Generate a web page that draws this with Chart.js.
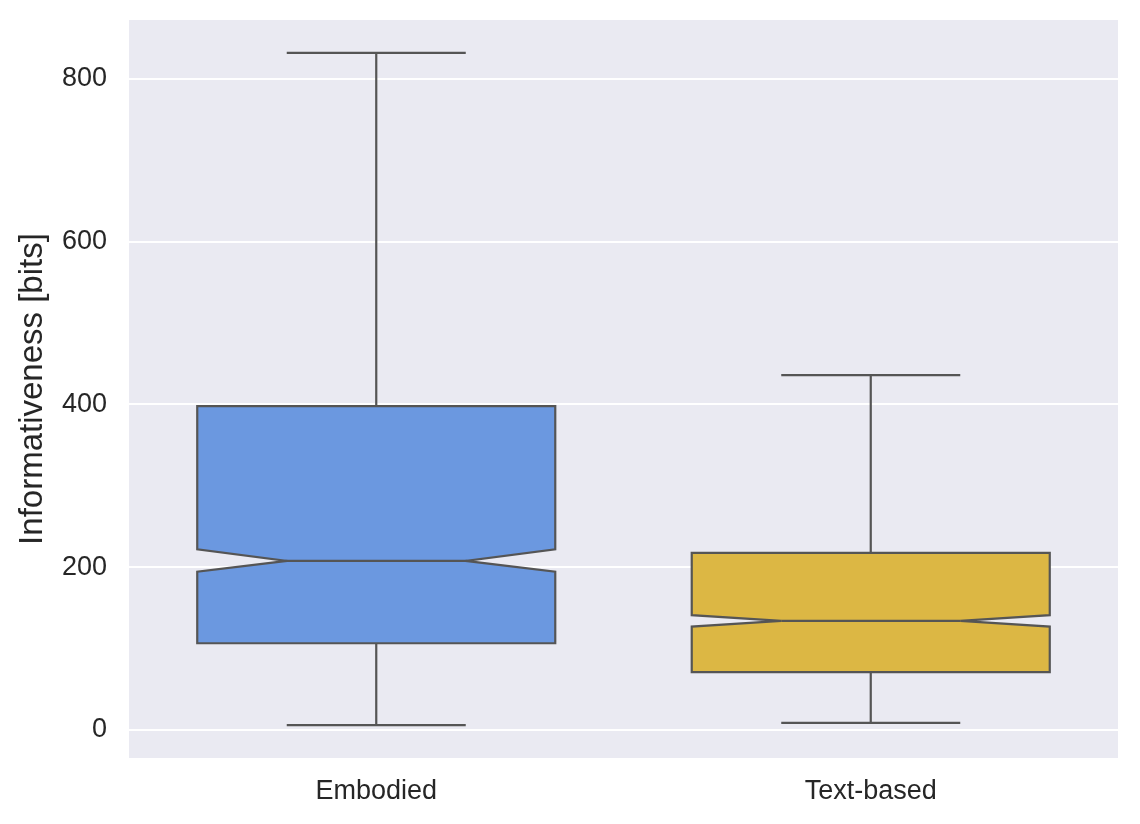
<!DOCTYPE html>
<html>
<head>
<meta charset="utf-8">
<script src="https://cdn.jsdelivr.net/npm/chart.js@4"></script>
<style>
    html, body { margin: 0; padding: 0; background: #ffffff; }
    #wrap { width: 1140px; height: 824px; }
</style>
</head>
<body>
<div id="wrap"><canvas id="boxChart" width="1140" height="824"></canvas></div>
<script>
    // data
    const categories = ['Embodied', 'Text-based'];
    const whiskerLow = [5.8, 8.6];
    const q1 = [106.5, 71];
    const notchLow = [194.5, 127];
    const medians = [207.7, 134];
    const notchHigh = [222, 141];
    const q3 = [398, 217.5];
    const whiskerHigh = [832, 436];
    const yTicks = [0, 200, 400, 600, 800];
    const boxColors = ['#6b98e0', '#dcb744'];

    const edgeColor = '#555555';
    const boxWidth = 0.724;   // share of one category slot
    const capWidth = 0.362;

    // grey panel behind the plot
    const panelBg = {
        id: 'panelBg',
        beforeDraw(chart) {
            const { ctx, chartArea: a } = chart;
            ctx.save();
            ctx.fillStyle = '#eaeaf2';
            ctx.fillRect(a.left, a.top, a.right - a.left, a.bottom - a.top);
            ctx.restore();
        }
    };

    // notched boxes drawn through the chart scales
    const notchedBoxes = {
        id: 'notchedBoxes',
        afterDatasetsDraw(chart) {
            const { ctx, scales } = chart;
            const x = scales.x, y = scales.y;
            const slot = x.getPixelForValue(1) - x.getPixelForValue(0);
            ctx.save();
            ctx.lineWidth = 2.2;
            ctx.strokeStyle = edgeColor;
            ctx.lineJoin = 'miter';
            categories.forEach((c, i) => {
                const cx = x.getPixelForValue(i);
                const hw = slot * boxWidth / 2;
                const nw = hw / 2;
                const cw = slot * capWidth / 2;

                // whiskers
                ctx.beginPath();
                ctx.moveTo(cx, y.getPixelForValue(q1[i]));
                ctx.lineTo(cx, y.getPixelForValue(whiskerLow[i]));
                ctx.moveTo(cx - cw, y.getPixelForValue(whiskerLow[i]));
                ctx.lineTo(cx + cw, y.getPixelForValue(whiskerLow[i]));
                ctx.moveTo(cx, y.getPixelForValue(q3[i]));
                ctx.lineTo(cx, y.getPixelForValue(whiskerHigh[i]));
                ctx.moveTo(cx - cw, y.getPixelForValue(whiskerHigh[i]));
                ctx.lineTo(cx + cw, y.getPixelForValue(whiskerHigh[i]));
                ctx.stroke();

                // box with notch
                const yq1 = y.getPixelForValue(q1[i]);
                const yq3 = y.getPixelForValue(q3[i]);
                const ynl = y.getPixelForValue(notchLow[i]);
                const ynh = y.getPixelForValue(notchHigh[i]);
                const ym = y.getPixelForValue(medians[i]);
                ctx.beginPath();
                ctx.moveTo(cx - hw, yq1);
                ctx.lineTo(cx + hw, yq1);
                ctx.lineTo(cx + hw, ynl);
                ctx.lineTo(cx + nw, ym);
                ctx.lineTo(cx + hw, ynh);
                ctx.lineTo(cx + hw, yq3);
                ctx.lineTo(cx - hw, yq3);
                ctx.lineTo(cx - hw, ynh);
                ctx.lineTo(cx - nw, ym);
                ctx.lineTo(cx - hw, ynl);
                ctx.closePath();
                ctx.fillStyle = boxColors[i];
                ctx.fill();
                ctx.stroke();

                // median
                ctx.beginPath();
                ctx.moveTo(cx - nw, ym);
                ctx.lineTo(cx + nw, ym);
                ctx.stroke();
            });
            ctx.restore();
        }
    };

    const ctxBox = document.getElementById('boxChart');
    const boxChart = new Chart(ctxBox.getContext('2d'), {
        type: 'bar',
        data: {
            labels: categories,
            datasets: [{
                label: 'Informativeness',
                data: medians,
                backgroundColor: 'rgba(0,0,0,0)',
                borderWidth: 0
            }]
        },
        options: {
            responsive: false,
            animation: false,
            layout: {
                padding: { top: 20, right: 22, bottom: 0, left: 0 }
            },
            scales: {
                x: {
                    grid: { display: false, drawTicks: false },
                    border: { display: false },
                    ticks: {
                        color: '#262626',
                        padding: 17,
                        font: { family: 'Liberation Sans, Arial, sans-serif', size: 27 }
                    },
                    afterFit(scale) {
                        scale.height = 66;
                        scale.paddingLeft = 0;
                        scale.paddingRight = 0;
                    }
                },
                y: {
                    min: -34.5,
                    max: 872.5,
                    grid: { color: '#ffffff', lineWidth: 2, drawTicks: false },
                    border: { display: false },
                    afterBuildTicks(scale) {
                        scale.ticks = yTicks.map(v => ({ value: v }));
                    },
                    ticks: {
                        color: '#262626',
                        padding: 22,
                        font: { family: 'Liberation Sans, Arial, sans-serif', size: 27 }
                    },
                    title: {
                        display: true,
                        text: 'Informativeness [bits]',
                        color: '#262626',
                        padding: { top: 13, bottom: 0 },
                        font: { family: 'Liberation Sans, Arial, sans-serif', size: 33 }
                    },
                    afterFit(scale) {
                        scale.width = 129;
                        scale.paddingTop = 0;
                        scale.paddingBottom = 0;
                    }
                }
            },
            plugins: {
                legend: { display: false },
                tooltip: { enabled: false }
            }
        },
        plugins: [panelBg, notchedBoxes]
    });
</script>
</body>
</html>
